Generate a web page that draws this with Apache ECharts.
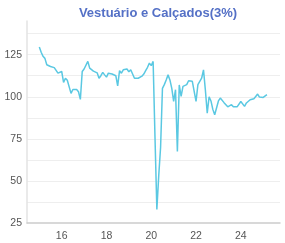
<!DOCTYPE html>
<html>
<head>
<meta charset="utf-8">
<script src="https://cdn.jsdelivr.net/npm/echarts@6/dist/echarts.min.js"></script>
<style>
html,body{margin:0;padding:0;background:#fff;}
#chart{width:285px;height:243px;}
</style>
</head>
<body>
<div id="chart"></div>
<script>
// Monthly series starting Jan 2015
const startYear = 2015;
const startMonth = 1;
const values = [
  129.5, 126.4, 124, 122.8, 119, 119.5, 118, 117.2, 117.3, 116.5, 114, 114.5,
  115, 108.5, 111, 109.8, 110.5, 102, 104.3, 104.6, 104.3, 103, 98.4, 115,
  116.5, 117.5, 121, 117, 116, 115.2, 114.5, 114.2, 111, 112.5, 114.5, 113,
  111.7, 114, 115, 113.5, 114, 112.5, 106.5, 115.5, 114, 116, 115, 116.5,
  114.8, 116, 115, 111, 110.5, 111, 111.5, 112.2, 113.5, 115.5, 117.5, 120,
  118.5, 121, 76, 33, 53, 70, 105, 107.2, 110, 113, 110, 105,
  97.2, 104.2, 67.5, 107, 100.2, 106.2, 107.2, 107.2, 109.5, 110.1, 109.2, 109.2,
  97.2, 107.2, 107.8, 111, 116, 104, 90.3, 100, 97.5, 92.5, 89.3, 89.5,
  97.5, 99.2, 98.2, 96.5, 96.3, 94, 93.3, 95.3, 94, 94.3, 94, 93.2,
  97.2, 96.5, 94.3, 96.3, 96, 98.2, 98.8, 98.8, 100.2, 101.6, 99.8, 99.4,
  99.6, 100.5, 101.2
];
const xTickLabels = [16, 18, 20, 22, 24];
const yTickLabels = [25, 50, 75, 100, 125];
const titleText = 'Vestuário e Calçados(3%)';

const points = values.map((v, i) => {
  const m = startMonth - 1 + i;
  const yr = (startYear - 2000) + Math.floor(m / 12) + (m % 12) / 12;
  return [yr, v];
});

const chart = echarts.init(document.getElementById('chart'), null, {renderer: 'canvas'});
chart.setOption({
  animation: false,
  title: {
    text: titleText,
    left: 153,
    textAlign: 'center',
    top: 2,
    textStyle: {color: '#5470c6', fontSize: 13, fontWeight: 'bold', fontFamily: 'Liberation Sans, Arial, sans-serif'}
  },
  grid: {left: 27, right: 5, top: 21, bottom: 20, containLabel: false},
  xAxis: {
    type: 'value',
    min: 14.45,
    max: 25.75,
    axisLine: {show: true, lineStyle: {color: '#cccccc', width: 1.5}},
    axisTick: {show: false},
    splitLine: {show: false},
    axisLabel: {
      customValues: xTickLabels,
      formatter: v => String(v),
      color: '#555',
      fontSize: 10.5,
      margin: 8,
      fontFamily: 'Liberation Sans, Arial, sans-serif'
    }
  },
  yAxis: {
    type: 'value',
    min: 25,
    max: 145,
    interval: 12.5,
    axisLine: {show: true, lineStyle: {color: '#e3e3e3', width: 1.5}},
    axisTick: {show: false},
    splitLine: {show: true, showMaxLine: false, showMinLine: false, lineStyle: {color: '#eeeeee', width: 1}},
    axisLabel: {
      customValues: yTickLabels,
      formatter: v => String(v),
      color: '#555',
      fontSize: 10.5,
      margin: 5,
      fontFamily: 'Liberation Sans, Arial, sans-serif'
    }
  },
  series: [{
    type: 'line',
    data: points,
    showSymbol: false,
    symbol: 'none',
    lineStyle: {color: '#5ac8e2', width: 1.5},
    itemStyle: {color: '#5ac8e2'}
  }]
});
</script>
</body>
</html>
